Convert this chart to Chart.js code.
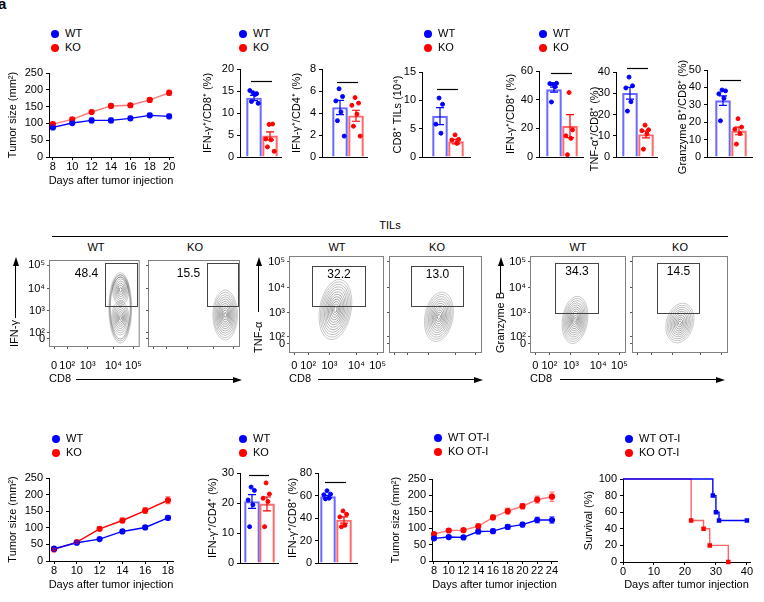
<!DOCTYPE html>
<html><head><meta charset="utf-8">
<script src="https://cdn.jsdelivr.net/npm/chart.js@4.4.1/dist/chart.umd.min.js"></script>
<style>
body{margin:0;background:#fff;width:764px;height:602px;position:relative;overflow:hidden;font-family:"Liberation Sans",Arial,sans-serif;color:#000;}
canvas{position:absolute;}
.t{position:absolute;white-space:nowrap;line-height:13px;}
.dot{position:absolute;width:8px;height:8px;border-radius:50%;}
.hl{position:absolute;height:1px;background:#000;}
.vl{position:absolute;width:1px;background:#000;}
.au{position:absolute;width:0;height:0;border-left:3px solid transparent;border-right:3px solid transparent;border-bottom:9px solid #000;}
.ar{position:absolute;width:0;height:0;border-top:3px solid transparent;border-bottom:3px solid transparent;border-left:9px solid #000;}
.nar{font-family:"Liberation Sans Narrow","Liberation Sans",Arial,sans-serif;font-size:11px;}
</style></head><body>
<script>
// ================= DATA =================
const groups = ['WT', 'KO'];
const groupsOT = ['WT OT-I', 'KO OT-I'];

// Panel A – tumor growth
const daysA = [8, 10, 12, 14, 16, 18, 20];
const wtTumorA = [88, 101, 109, 109, 115, 124, 121];
const wtTumorAsem = [5, 5, 7, 7, 6, 6, 7];
const koTumorA = [98, 112, 134, 152, 154, 170, 191];
const koTumorAsem = [4, 4, 4, 6, 6, 6, 8];

// Panel B – IFN-γ+ of CD8 / CD4
const ifnCd8Mean = [13.4, 4.8], ifnCd8Sem = [0.6, 0.9];
const ifnCd8WT = [14.6, 14.4, 15.1, 14.2, 12.6, 12.2];
const ifnCd8KO = [7.4, 7.5, 4.1, 3.9, 2.3, 1.3];
const ifnCd4Mean = [4.5, 3.75], ifnCd4Sem = [0.65, 0.5];
const ifnCd4WT = [6.2, 5.5, 5.1, 4.1, 3.3, 1.9];
const ifnCd4KO = [5.4, 4.9, 4.7, 3.9, 2.8, 1.9];

// Panel C – CD8+ TILs (10^4)
const tilMean = [7.2, 2.7], tilSem = [1.5, 0.4];
const tilWT = [10.4, 9.3, 5.8, 4.2];
const tilKO = [3.9, 3.1, 3.0, 2.4];

// Panel D – TIL cytokines
const dIfnMean = [47, 21.5], dIfnSem = [1.8, 8];
const dIfnWT = [50.7, 51.4, 51.2, 49, 38.4];
const dIfnKO = [45, 19, 14.8, 13, 1.6];
const dTnfMean = [30, 10.6], dTnfSem = [2.8, 1.6];
const dTnfWT = [37.6, 33.5, 32.5, 26, 21.6];
const dTnfKO = [15, 12.8, 12.4, 10.9, 3.7];
const dGzbMean = [32.4, 15], dGzbSem = [2.7, 2.2];
const dGzbWT = [38.5, 38, 36.3, 33.8, 20.8];
const dGzbKO = [22, 17.2, 16, 13.4, 7.4];

// Flow cytometry (axis units: 0 | 10^2 .. 10^5)
const flowXTickVals = [0, 0.58, 1.47, 2.6, 3.48];
const flowYTickVals = [0, 0.3, 1.32, 2.36, 3.45];
const flowTickLabels = ['0', '10²', '10³', '10⁴', '10⁵'];
// populations: [centerCD8, centerMarker, spreadCD8, spreadMarker, tiltDeg, levels, innerScale]
const ifnWTpops = [[2.9, 1.45, 0.5, 1.65, 0, 3, 0.88], [2.92, 2.3, 0.36, 0.72, 0, 7, 0.15], [2.9, 0.98, 0.38, 0.8, 0, 8, 0.12]];
const ifnKOpops = [[3.11, 1.12, 0.53, 1.17, 0, 11, 0.1]];
const tnfWTpops = [[1.72, 1.45, 0.66, 1.28, 10, 12, 0.1]];
const tnfKOpops = [[1.91, 1.14, 0.6, 1.05, 10, 11, 0.1]];
const gzbWTpops = [[1.64, 1.01, 0.52, 1.0, 8, 11, 0.1]];
const gzbKOpops = [[1.76, 0.88, 0.56, 0.85, 15, 10, 0.1]];
// gates: [x1, y1, x2, y2]
const ifnGates = [[2.23, 1.54, 3.62, 3.56], [2.31, 1.54, 3.66, 3.56]];
const tnfGates = [[0.74, 1.6, 2.96, 3.28], [0.74, 1.6, 2.96, 3.28]];
const gzbGates = [[0.81, 1.3, 2.59, 3.41], [0.81, 1.3, 2.55, 3.41]];
const ifnPct = ['48.4', '15.5'];
const tnfPct = ['32.2', '13.0'];
const gzbPct = ['34.3', '14.5'];

// Panel E – second model
const daysE = [8, 10, 12, 14, 16, 18];
const wtTumorE = [37, 55, 66, 89, 101, 130];
const wtTumorEsem = [3, 3, 4, 5, 6, 7];
const koTumorE = [35, 57, 97, 122, 152, 183];
const koTumorEsem = [3, 3, 5, 7, 9, 10];
const eCd4Mean = [20.5, 19.7], eCd4Sem = [2.3, 2.3];
const eCd4WT = [25.3, 24.2, 21, 19.4, 12.1];
const eCd4KO = [26.7, 23, 21.6, 20.5, 12.1];
const eCd8Mean = [59, 38.2], eCd8Sem = [1.2, 2.8];
const eCd8WT = [64.2, 61.2, 60.6, 57.6, 57];
const eCd8KO = [46.3, 43.3, 41, 33.5, 32.2];

// OT-I transfer
const daysOT = [8, 10, 12, 14, 16, 18, 20, 22, 24];
const wtOT = [69, 73, 72, 90, 91, 104, 111, 125, 125];
const wtOTsem = [5, 5, 4, 7, 6, 7, 7, 9, 10];
const koOT = [82, 93, 94, 106, 133, 152, 167, 187, 196];
const koOTsem = [4, 4, 4, 8, 7, 9, 8, 11, 14];

// Survival
const survTicks = [0, 10, 20, 30, 40];
const survWTdays = [0, 29, 30, 31, 40];
const survWT = [100, 80, 60, 50, 50];
const survKOdays = [0, 22, 26, 28, 34];
const survKO = [100, 50, 40, 20, 0];

// ================= STYLE =================
const BLUE = '#0000ff', RED = '#ff0000';
const BLUE_L = '#6a6aff', RED_L = '#ff6a6a';
const FONT = '"Liberation Sans", Arial, sans-serif';
const NARROW = '"Liberation Sans Narrow", "Liberation Sans", Arial, sans-serif';
const PAD = 30;
Chart.defaults.font.family = FONT;
Chart.defaults.font.size = 11;
Chart.defaults.color = '#000';
Chart.defaults.animation = false;

// ================= PLUGINS =================
const errPlugin = {
  id: 'errbars',
  afterDatasetsDraw(chart) {
    const ctx = chart.ctx;
    chart.data.datasets.forEach((ds, di) => {
      if (!ds.errors) return;
      const meta = chart.getDatasetMeta(di);
      const ys = chart.scales[meta.yAxisID];
      meta.data.forEach((el, i) => {
        const d = ds.data[i];
        const v = typeof d === 'object' ? d.y : d;
        const e = ds.errors[i];
        const x = el.x;
        const y1 = ys.getPixelForValue(v + e), y2 = ys.getPixelForValue(v - e);
        const c = ds.capW || 3;
        ctx.save();
        ctx.strokeStyle = Array.isArray(ds.errColor) ? ds.errColor[i] : ds.errColor;
        ctx.lineWidth = 1.2;
        ctx.beginPath();
        ctx.moveTo(x, y1); ctx.lineTo(x, y2);
        ctx.moveTo(x - c, y1); ctx.lineTo(x + c, y1);
        ctx.moveTo(x - c, y2); ctx.lineTo(x + c, y2);
        ctx.stroke();
        ctx.restore();
      });
    });
  }
};
const sigPlugin = {
  id: 'sig',
  afterDraw(chart, args, o) {
    if (!o || o.y === undefined) return;
    const {ctx, scales: {x, y}} = chart;
    const py = Math.round(y.getPixelForValue(o.y)) + 0.5;
    ctx.save();
    ctx.strokeStyle = '#000'; ctx.lineWidth = 1.2;
    ctx.beginPath();
    ctx.moveTo(x.getPixelForValue(0) - 3, py);
    ctx.lineTo(x.getPixelForValue(1) + 2, py);
    ctx.stroke();
    ctx.restore();
  }
};
// axis titles drawn without Chart.js' width squeezing
const titlePlugin = {
  id: 'titles',
  afterDraw(chart, args, o) {
    if (!o) return;
    const ctx = chart.ctx, a = chart.chartArea;
    ctx.save();
    ctx.font = '11px ' + FONT; ctx.fillStyle = '#000';
    ctx.textAlign = 'center'; ctx.textBaseline = 'middle';
    if (o.y) {
      ctx.save();
      ctx.translate(o.yx, (a.top + a.bottom) / 2 + (o.ydy || 0));
      ctx.rotate(-Math.PI / 2);
      ctx.fillText(o.y, 0, 0);
      ctx.restore();
    }
    if (o.x) ctx.fillText(o.x, (a.left + a.right) / 2, a.bottom + o.xdy);
    ctx.restore();
  }
};
const flowPlugin = {
  id: 'flow',
  afterDatasetsDraw(chart, args, o) {
    if (!o || !o.pops) return;
    const {ctx, chartArea: a, scales: {x, y}} = chart;
    const ux = Math.abs(x.getPixelForValue(1) - x.getPixelForValue(0));
    const uy = Math.abs(y.getPixelForValue(1) - y.getPixelForValue(0));
    ctx.save();
    ctx.beginPath(); ctx.rect(a.left, a.top, a.width, a.height); ctx.clip();
    o.pops.forEach(p => {
      const cx = x.getPixelForValue(p[0]), cy = y.getPixelForValue(p[1]);
      const n = p[5];
      for (let k = 0; k < n; k++) {
        const s = n === 1 ? 1 : 1 - k * (1 - p[6]) / (n - 1);
        ctx.beginPath();
        ctx.ellipse(cx, cy, p[2] * ux * s, p[3] * uy * s, p[4] * Math.PI / 180, 0, Math.PI * 2);
        ctx.strokeStyle = 'rgba(60,60,60,' + (0.45 + 0.45 * k / n).toFixed(2) + ')';
        ctx.lineWidth = 0.6;
        ctx.stroke();
      }
    });
    ctx.restore();
    ctx.save();
    ctx.strokeStyle = '#808080'; ctx.lineWidth = 1;
    ctx.strokeRect(a.left + 0.5, a.top + 0.5, a.width - 1, a.height - 1);
    const g = o.gate;
    const gx1 = Math.round(x.getPixelForValue(g[0])) + 0.5, gx2 = Math.round(x.getPixelForValue(g[2])) + 0.5;
    const gy1 = Math.round(y.getPixelForValue(g[3])) + 0.5, gy2 = Math.round(y.getPixelForValue(g[1])) + 0.5;
    ctx.strokeStyle = '#444';
    ctx.strokeRect(gx1, gy1, gx2 - gx1, gy2 - gy1);
    ctx.fillStyle = '#000'; ctx.font = '12px ' + FONT;
    ctx.textBaseline = 'middle'; ctx.textAlign = 'center';
    if (o.side === 'left') ctx.fillText(o.pct, gx1 - 19, gy1 + 10);
    else ctx.fillText(o.pct, (gx1 + gx2) / 2, gy1 + 8);
    ctx.restore();
  }
};
Chart.register(errPlugin, sigPlugin, titlePlugin, flowPlugin);

// ================= HELPERS =================
function mkCanvas(L, T, W, H) {
  const c = document.createElement('canvas');
  c.width = W; c.height = H;
  c.style.left = L + 'px'; c.style.top = T + 'px';
  c.style.width = W + 'px'; c.style.height = H + 'px';
  document.body.appendChild(c);
  return c;
}
function frame(g) {
  const L = Math.round(g.tx - 6.6), T = g.top - PAD;
  const yW = g.ax - L;
  const xH = g.ty ? Math.round(g.ty + 6.6 - g.bottom) : 1;
  const W = g.right + 10 - L, H = g.bottom - T + xH + PAD;
  return {canvas: mkCanvas(L, T, W, H), yW, xH, yx: g.tx - L, xdy: g.ty ? g.ty - g.bottom : 0,
          ydy: g.tyc ? g.tyc - (g.top + g.bottom) / 2 : 0};
}
function baseOpts() {
  return {
    responsive: false, animation: false, events: [],
    layout: {padding: {top: PAD, right: 10, bottom: PAD, left: 0}},
    plugins: {legend: {display: false}, tooltip: {enabled: false}}
  };
}
function yAxis(min, max, step, yW) {
  return {
    type: 'linear', position: 'left', min, max,
    ticks: {stepSize: step, padding: 3, color: '#000', font: {size: 11}},
    grid: {drawOnChartArea: false, tickLength: 3, color: '#000'},
    border: {color: '#000', width: 1},
    title: {display: false},
    afterFit: s => { s.width = yW; }
  };
}
const xy = (xs, ys) => xs.map((x, i) => ({x, y: ys[i]}));

function linePanel(g, yTitle, xTicks, xMin, xMax, yMax, yStep, series, stepped) {
  const f = frame(g);
  const opts = baseOpts();
  opts.scales = {
    x: {
      type: 'linear', min: xMin, max: xMax,
      afterBuildTicks: s => { s.ticks = xTicks.map(v => ({value: v})); },
      ticks: {padding: 0, maxRotation: 0, autoSkip: false, color: '#000', font: {size: 11}},
      grid: {drawOnChartArea: false, tickLength: 3, color: '#000'},
      border: {color: '#000', width: 1},
      title: {display: false},
      afterFit: s => { s.height = f.xH; }
    },
    y: yAxis(0, yMax, yStep, f.yW)
  };
  opts.plugins.titles = {y: yTitle, yx: f.yx, ydy: f.ydy, x: 'Days after tumor injection', xdy: f.xdy};
  new Chart(f.canvas, {
    type: 'line',
    data: {datasets: series.map(s => ({
      label: s.label, data: xy(s.x, s.y), errors: s.err, errColor: s.errColor, capW: 2.5,
      borderColor: s.line, backgroundColor: s.color, pointBackgroundColor: s.color, pointBorderColor: s.color,
      borderWidth: 1.4, pointRadius: s.radius || 2.4, pointStyle: s.pstyle || 'circle',
      stepped: stepped ? 'before' : false, tension: 0, fill: false, clip: false
    }))},
    options: opts
  });
}

function barPanel(g, yTitle, yMax, yStep, mean, sem, wtPts, koPts, sigY) {
  const f = frame(g);
  const u = g.c[1] - g.c[0];
  const xMin = -(g.c[0] - g.ax) / u, xMax = 1 + (g.right - g.c[1]) / u;
  const off = (i) => (i % 2 ? 1 : -1) * (0.06 + 0.1 * (i % 3));
  const opts = baseOpts();
  opts.scales = {
    x: {
      type: 'linear', min: xMin, max: xMax, offset: false,
      ticks: {display: false}, grid: {display: false},
      border: {display: true, color: '#000', width: 1},
      afterFit: s => { s.height = f.xH; }
    },
    y: yAxis(0, yMax, yStep, f.yW)
  };
  opts.plugins.sig = {y: sigY};
  opts.plugins.titles = {y: yTitle, yx: f.yx, ydy: f.ydy};
  new Chart(f.canvas, {
    type: 'bar',
    data: {datasets: [
      {type: 'bar', label: 'mean', order: 2, data: xy([0, 1], mean), errors: sem, errColor: [BLUE, RED], capW: 4,
       backgroundColor: 'rgba(255,255,255,0)', borderColor: [BLUE_L, RED_L], borderWidth: 1.5, barThickness: 15},
      {type: 'scatter', label: groups[0], order: 1, data: wtPts.map((v, i) => ({x: off(i), y: v})),
       backgroundColor: BLUE, borderColor: BLUE, pointRadius: 2},
      {type: 'scatter', label: groups[1], order: 1, data: koPts.map((v, i) => ({x: 1 + off(i), y: v})),
       backgroundColor: RED, borderColor: RED, pointRadius: 2}
    ]},
    options: opts
  });
}

function flowPanel(s) {
  const [bl, bt, br, bb] = s.box;
  const T = bt - 10;
  const yW = bl - s.L;
  const xH = s.xTitle ? Math.round(379 + 6.6 - bb) : 4;
  const W = br + 10 - s.L, H = bb - T + xH + 8;
  const c = mkCanvas(s.L, T, W, H);
  const opts = baseOpts();
  opts.layout.padding = {top: 10, right: 10, bottom: 8, left: 0};
  const tickCfg = (show, pad) => ({display: show, autoSkip: false, maxRotation: 0, padding: pad,
    callback: (v, i) => flowTickLabels[i], color: '#000', font: {family: NARROW, size: 11}});
  opts.scales = {
    x: {
      type: 'linear', min: -0.22, max: 3.75,
      afterBuildTicks: sc => { sc.ticks = flowXTickVals.map(v => ({value: v})); },
      ticks: tickCfg(!!s.xTitle, s.xTitle ? Math.max(0, 366 - bb - 2 - 6.6) : 0),
      grid: {drawOnChartArea: false, tickLength: 2, color: '#555'},
      border: {display: false},
      title: {display: !!s.xTitle, text: s.xTitle || '', align: 'start', padding: 0, color: '#000', font: {family: NARROW, size: 11}},
      afterFit: sc => { sc.height = xH; }
    },
    y: {
      type: 'linear', min: -0.38, max: 3.7,
      afterBuildTicks: sc => { sc.ticks = flowYTickVals.map(v => ({value: v})); },
      ticks: tickCfg(!!s.yTitle, 2),
      grid: {drawOnChartArea: false, tickLength: 2, color: '#555'},
      border: {display: false},
      title: {display: !!s.yTitle, text: s.yTitle || '', align: 'start', padding: 0, color: '#000', font: {family: NARROW, size: 11}},
      afterFit: sc => { sc.width = yW; }
    }
  };
  opts.plugins.flow = {pops: s.pops, gate: s.gate, pct: s.pct, side: s.side};
  new Chart(c, {type: 'scatter', data: {datasets: []}, options: opts});
}

// ================= HTML decorations =================
function addText(txt, x, y, cls, align) {
  const d = document.createElement('div');
  d.className = 't ' + (cls || '');
  d.textContent = txt;
  d.style.top = (y - 7) + 'px';
  d.style.left = x + 'px';
  if (align === 'center') d.style.transform = 'translateX(-50%)';
  document.body.appendChild(d);
  return d;
}
function legend(x, y, labels) {
  [BLUE, RED].forEach((col, i) => {
    const yy = y + i * 14;
    const d = document.createElement('div');
    d.className = 'dot'; d.style.background = col;
    d.style.left = (x - 4) + 'px'; d.style.top = (yy - 4) + 'px';
    document.body.appendChild(d);
    const t = addText(labels[i], x + 10, yy);
    t.style.fontSize = '11px';
  });
}
function hline(x1, x2, y, arrow) {
  const d = document.createElement('div'); d.className = 'hl';
  d.style.left = x1 + 'px'; d.style.top = y + 'px'; d.style.width = (x2 - x1 - (arrow ? 6 : 0)) + 'px';
  document.body.appendChild(d);
  if (arrow) { const a = document.createElement('div'); a.className = 'ar'; a.style.left = (x2 - 9) + 'px'; a.style.top = (y - 2.5) + 'px'; document.body.appendChild(a); }
}
function varrow(x, yTip, yBottom) {
  const d = document.createElement('div'); d.className = 'vl';
  d.style.left = x + 'px'; d.style.top = (yTip + 6) + 'px'; d.style.height = (yBottom - yTip - 6) + 'px';
  document.body.appendChild(d);
  const a = document.createElement('div'); a.className = 'au'; a.style.left = (x - 2.5) + 'px'; a.style.top = yTip + 'px';
  document.body.appendChild(a);
}

// ================= BUILD =================
// Row 1
legend(55, 34, groups);
linePanel({ax: 49, top: 73, right: 173, bottom: 157, tx: 13, ty: 181}, 'Tumor size (mm²)', daysA, 7.6, 20.4, 250, 50, [
  {label: groups[0], x: daysA, y: wtTumorA, err: wtTumorAsem, color: BLUE, line: BLUE, errColor: 'rgba(0,0,255,0.55)'},
  {label: groups[1], x: daysA, y: koTumorA, err: koTumorAsem, color: RED, line: 'rgba(255,60,60,0.7)', errColor: 'rgba(255,0,0,0.5)'}
]);
legend(243, 34, groups);
barPanel({ax: 240, top: 69, right: 281, bottom: 157, tx: 208, c: [254, 270]}, 'IFN-γ⁺/CD8⁺ (%)', 20, 5, ifnCd8Mean, ifnCd8Sem, ifnCd8WT, ifnCd8KO, 17.3);
barPanel({ax: 322, top: 69, right: 367, bottom: 157, tx: 297, c: [340, 356]}, 'IFN-γ⁺/CD4⁺ (%)', 8, 2, ifnCd4Mean, ifnCd4Sem, ifnCd4WT, ifnCd4KO, 6.8);
legend(428, 34, groups);
barPanel({ax: 422, top: 72, right: 470, bottom: 157, tx: 398, c: [440, 456]}, 'CD8⁺ TILs (10⁴)', 15, 5, tilMean, tilSem, tilWT, tilKO, 12);
legend(543, 34, groups);
barPanel({ax: 539, top: 71, right: 583, bottom: 157, tx: 511, c: [554, 570]}, 'IFN-γ⁺/CD8⁺ (%)', 60, 20, dIfnMean, dIfnSem, dIfnWT, dIfnKO, 58.6);
barPanel({ax: 616, top: 72, right: 657, bottom: 157, tx: 595, tyc: 129, c: [630, 646]}, 'TNF-α⁺/CD8⁺ (%)', 40, 10, dTnfMean, dTnfSem, dTnfWT, dTnfKO, 41.9);
barPanel({ax: 707, top: 70, right: 752, bottom: 157, tx: 683, tyc: 117, c: [723, 739]}, 'Granzyme B⁺/CD8⁺ (%)', 50, 10, dGzbMean, dGzbSem, dGzbWT, dGzbKO, 44.3);

// Row 2 – flow
addText('TILs', 390, 226, 'nar', 'center');
hline(52, 728, 236, false);
[[96, 'WT'], [195, 'KO'], [337, 'WT'], [437, 'KO'], [578, 'WT'], [680, 'KO']].forEach(p => addText(p[1], p[0], 248, 'nar', 'center'));
flowPanel({L: 8, box: [49, 260, 143, 347], yTitle: 'IFN-γ', xTitle: 'CD8', pops: ifnWTpops, gate: ifnGates[0], pct: ifnPct[0], side: 'left'});
flowPanel({L: 143, box: [148, 260, 240, 347], pops: ifnKOpops, gate: ifnGates[1], pct: ifnPct[1], side: 'left'});
flowPanel({L: 252, box: [289, 256, 384, 353], yTitle: 'TNF-α', xTitle: 'CD8', pops: tnfWTpops, gate: tnfGates[0], pct: tnfPct[0], side: 'in'});
flowPanel({L: 384, box: [389, 256, 482, 353], pops: tnfKOpops, gate: tnfGates[1], pct: tnfPct[1], side: 'in'});
flowPanel({L: 494, box: [530, 256, 626, 353], yTitle: 'Granzyme B', xTitle: 'CD8', pops: gzbWTpops, gate: gzbGates[0], pct: gzbPct[0], side: 'in'});
flowPanel({L: 627, box: [632, 256, 728, 353], pops: gzbKOpops, gate: gzbGates[1], pct: gzbPct[1], side: 'in'});
varrow(15, 257, 318);
varrow(258, 257, 312);
varrow(500, 257, 293);
hline(76, 242, 379, true);
hline(318, 483, 379, true);
hline(560, 725, 379, true);

// Row 3
legend(56, 439, groups);
linePanel({ax: 49, top: 478, right: 173, bottom: 561, tx: 13, ty: 585}, 'Tumor size (mm²)', daysE, 7.56, 18.44, 250, 50, [
  {label: groups[0], x: daysE, y: wtTumorE, err: wtTumorEsem, color: BLUE, line: BLUE, errColor: 'rgba(0,0,255,0.6)'},
  {label: groups[1], x: daysE, y: koTumorE, err: koTumorEsem, color: RED, line: RED, errColor: 'rgba(255,0,0,0.6)'}
]);
legend(243, 439, groups);
barPanel({ax: 240, top: 473, right: 278, bottom: 563, tx: 213, c: [252, 267]}, 'IFN-γ⁺/CD4⁺ (%)', 30, 10, eCd4Mean, eCd4Sem, eCd4WT, eCd4KO, 29.3);
barPanel({ax: 318, top: 473, right: 357, bottom: 563, tx: 293, c: [328, 344]}, 'IFN-γ⁺/CD8⁺ (%)', 80, 20, eCd8Mean, eCd8Sem, eCd8WT, eCd8KO, 72);
legend(438, 438, groupsOT);
linePanel({ax: 432, top: 479, right: 557, bottom: 561, tx: 396, ty: 585}, 'Tumor size (mm²)', daysOT, 7.73, 24.68, 250, 50, [
  {label: groupsOT[0], x: daysOT, y: wtOT, err: wtOTsem, color: BLUE, line: BLUE, errColor: 'rgba(0,0,255,0.55)'},
  {label: groupsOT[1], x: daysOT, y: koOT, err: koOTsem, color: RED, line: 'rgba(255,60,60,0.7)', errColor: 'rgba(255,0,0,0.5)'}
]);
legend(629, 439, groupsOT);
linePanel({ax: 623, top: 479, right: 750, bottom: 562, tx: 589, ty: 585}, 'Survival (%)', survTicks, 0, 41, 100, 20, [
  {label: groupsOT[0], x: survWTdays, y: survWT, color: BLUE, line: BLUE, radius: [0, 2.2, 2.2, 2.2, 2.2], pstyle: 'rect'},
  {label: groupsOT[1], x: survKOdays, y: survKO, color: RED, line: 'rgba(255,60,60,0.8)', radius: [0, 2.2, 2.2, 2.2, 2.2], pstyle: 'rect'}
], true);

// panel letter
const pl = addText('a', -2, 4); pl.style.fontWeight = 'bold'; pl.style.fontSize = '15px';
</script>
</body></html>
